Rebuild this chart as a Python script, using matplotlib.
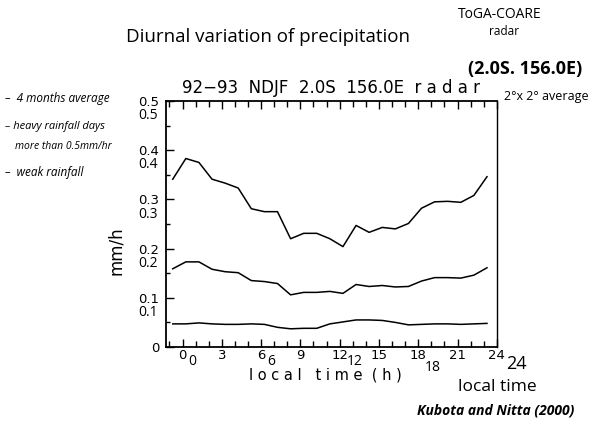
import matplotlib.pyplot as plt
from matplotlib.ticker import MultipleLocator

# local time of each sample (h)
hours = [-0.75, 0.25, 1.25, 2.25, 3.25, 4.25, 5.25, 6.25, 7.25, 8.25, 9.25, 10.25,
         11.25, 12.25, 13.25, 14.25, 15.25, 16.25, 17.25, 18.25, 19.25, 20.25,
         21.25, 22.25, 23.25]

# mm/h
heavy_days = [0.341, 0.383, 0.375, 0.341, 0.333, 0.323, 0.281, 0.275, 0.275, 0.220,
              0.231, 0.231, 0.220, 0.204, 0.247, 0.233, 0.243, 0.240, 0.251, 0.282,
              0.295, 0.296, 0.294, 0.308, 0.346]
four_month_avg = [0.159, 0.173, 0.173, 0.158, 0.153, 0.151, 0.135, 0.133, 0.129, 0.106,
                  0.111, 0.111, 0.113, 0.109, 0.127, 0.123, 0.125, 0.122, 0.123, 0.134,
                  0.141, 0.141, 0.140, 0.146, 0.161]
weak_rain = [0.047, 0.047, 0.049, 0.047, 0.046, 0.046, 0.047, 0.046, 0.040, 0.037,
             0.038, 0.038, 0.047, 0.051, 0.055, 0.055, 0.054, 0.050, 0.045, 0.046,
             0.047, 0.047, 0.046, 0.047, 0.048]

y_ticks = [0, 0.1, 0.2, 0.3, 0.4, 0.5]
y_ticklabels = ['0', '0.1', '0.2', '0.3', '0.4', '0.5']
hand_y = [0.1, 0.2, 0.3, 0.4, 0.5]
hand_x = [0, 6, 12, 18]

HAND = 'Open Sans'

fig = plt.figure(figsize=(6.0, 4.25), dpi=100)
ax = fig.add_axes([0.277, 0.1835, 0.551, 0.579])

for ys in (heavy_days, four_month_avg, weak_rain):
    ax.plot(hours, ys, color='black', linewidth=1.1)

ax.set_xlim(-1.25, 24)
ax.set_ylim(0, 0.5)

ax.xaxis.set_major_locator(MultipleLocator(3))
ax.xaxis.set_minor_locator(MultipleLocator(1))
ax.yaxis.set_minor_locator(MultipleLocator(0.05))
ax.set_yticks(y_ticks)
ax.set_yticklabels(y_ticklabels)
ax.tick_params(which='both', direction='in', top=True, right=False,
               labelsize=9.5, width=1.0)
ax.tick_params(axis='x', pad=1.5)
ax.tick_params(axis='y', pad=5)
ax.tick_params(which='major', length=6)
ax.tick_params(which='minor', length=3)
ax.tick_params(axis='x', which='minor', top=True, length=4)
for s in ax.spines.values():
    s.set_linewidth(1.3)
ax.spines['right'].set_linewidth(1.0)

ax.set_ylabel('mm/h', fontsize=12, labelpad=10)
ax.yaxis.set_label_coords(-0.125, 0.39)
ax.set_xlabel('l o c a l   t i m e  ( h )', fontsize=10.5, labelpad=-1)
ax.xaxis.set_label_coords(0.48, -0.085)
ax.set_title('92\u221293  NDJF  2.0S  156.0E  r a d a r', fontsize=12, pad=6)

# handwritten duplicates of the tick labels
for v in hand_y:
    ax.text(-2.65, v - 0.03, f'{v:.1f}', fontsize=10, family=HAND,
            ha='center', va='center', clip_on=False)
hand_dx = {0: 0.75, 6: 0.75, 12: 1.15, 18: 1.1}
hand_dy = {0: 0.0, 6: 0.0, 12: 0.0, 18: 0.012}
for h in hand_x:
    ax.text(h + hand_dx[h], -0.029 - hand_dy[h], str(h), fontsize=10,
            family=HAND, ha='center', va='center', clip_on=False)
ax.text(25.5, -0.035, '24', fontsize=13, family=HAND, ha='center', va='center',
        clip_on=False)

fig.text(0.447, 0.913, 'Diurnal variation of precipitation', fontsize=13.5,
         family=HAND, ha='center', va='center')
fig.text(0.833, 0.965, 'ToGA-COARE', fontsize=10, family=HAND, ha='center', va='center')
fig.text(0.84, 0.925, 'radar', fontsize=8.5, family=HAND, ha='center', va='center')
fig.text(0.875, 0.838, '(2.0S. 156.0E)', fontsize=13, family=HAND, fontweight='bold',
         ha='center', va='center')
fig.text(0.84, 0.772, '2\u00b0x 2\u00b0 average', fontsize=9, family=HAND,
         ha='left', va='center')

fig.text(0.008, 0.768, '\u2013  4 months average', fontsize=8.5, family=HAND,
         ha='left', va='center', style='italic')
fig.text(0.008, 0.702, '\u2013 heavy rainfall days', fontsize=8, family=HAND,
         ha='left', va='center', style='italic')
fig.text(0.025, 0.655, 'more than 0.5mm/hr', fontsize=7.5, family=HAND,
         ha='left', va='center', style='italic')
fig.text(0.008, 0.593, '\u2013  weak rainfall', fontsize=8.5, family=HAND,
         ha='left', va='center', style='italic')

fig.text(0.763, 0.09, 'local time', fontsize=12.5, family=HAND, ha='left', va='center')
fig.text(0.695, 0.033, 'Kubota and Nitta (2000)', fontsize=10, family=HAND,
         fontweight='bold', style='italic', ha='left', va='center')

fig.savefig('out.png', dpi=100, facecolor='white')
